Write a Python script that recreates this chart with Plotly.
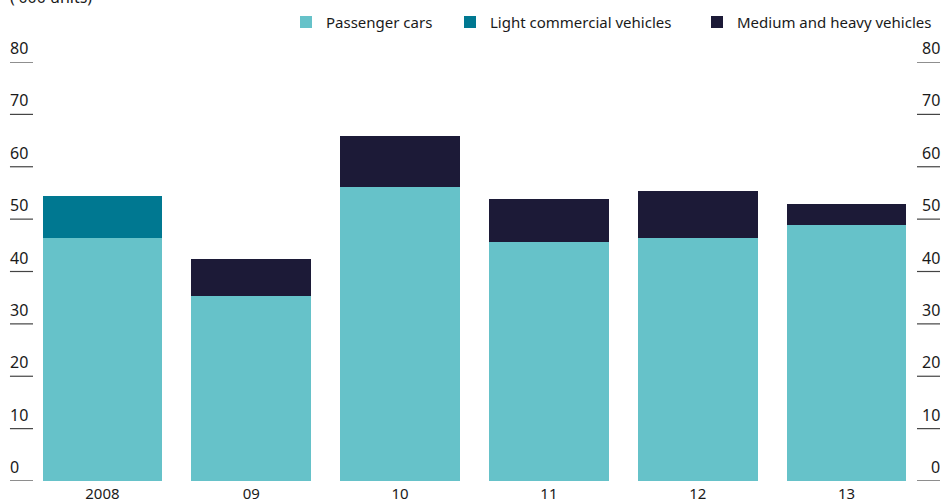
import plotly.graph_objects as go

years = ["2008", "09", "10", "11", "12", "13"]
passenger_cars = [46.4, 35.4, 56.2, 45.7, 46.4, 48.9]
light_commercial = [8.0, 0, 0, 0, 0, 0]
medium_heavy = [0, 6.9, 9.6, 8.2, 9.0, 3.9]
y_ticks = [0, 10, 20, 30, 40, 50, 60, 70, 80]

fig = go.Figure()

fig.add_trace(go.Bar(x=years, y=passenger_cars, name="Passenger cars",
                     marker_color="#66C2C9", marker_line_width=0, legend="legend"))
fig.add_trace(go.Bar(x=years, y=light_commercial, name="Light commercial vehicles",
                     marker_color="#007891", marker_line_width=0, legend="legend2"))
fig.add_trace(go.Bar(x=years, y=medium_heavy, name="Medium and heavy vehicles",
                     marker_color="#1C1A37", marker_line_width=0, legend="legend3"))

# tick rules and labels on both sides, drawn outside the plot area
for v in y_ticks:
    for x0, x1, xa, anchor in [(-0.0202, 0.0056, -0.0202, "left"), (0.9955, 1.0213, 1.0213, "right")]:
        fig.add_shape(type="line", xref="paper", yref="y", x0=x0, x1=x1, y0=v, y1=v,
                      line=dict(color="#444444", width=1.2))
        fig.add_annotation(xref="paper", yref="y", x=xa, y=v, text=str(v),
                           showarrow=False, xanchor=anchor, yanchor="bottom", yshift=1,
                           xshift=-2 if anchor == "left" else 2,
                           font=dict(family="Noto Sans", size=16, color="#1a1a1a"))

# unit label, partly above the top edge as in the original
fig.add_annotation(xref="paper", yref="paper", x=-0.0202, y=1.155, text="('000 units)",
                   showarrow=False, xanchor="left", yanchor="middle", xshift=-2,
                   font=dict(family="Noto Sans", size=16, color="#1a1a1a"))

leg = dict(orientation="h", xref="container", xanchor="left",
           yref="container", y=0.956, yanchor="middle",
           font=dict(family="Noto Sans", size=15, color="#1a1a1a"),
           itemwidth=30, bgcolor="rgba(0,0,0,0)")

fig.update_layout(
    barmode="stack",
    bargap=0.195,
    width=941,
    height=504,
    margin=dict(l=28, r=20, t=62, b=23, autoexpand=False),
    plot_bgcolor="#FFFFFF",
    paper_bgcolor="#FFFFFF",
    showlegend=True,
    legend=dict(leg, x=286 / 941),
    legend2=dict(leg, x=450 / 941),
    legend3=dict(leg, x=697 / 941),
    xaxis=dict(showgrid=False, showline=False, ticks="", ticklabelstandoff=2,
               tickfont=dict(family="Noto Sans", size=15, color="#1a1a1a")),
    yaxis=dict(range=[0, 80], showgrid=False, showticklabels=False, zeroline=False,
               fixedrange=True),
)

fig.write_html("out.html", config={"displayModeBar": False},
               post_script="document.body.style.margin='0';")
